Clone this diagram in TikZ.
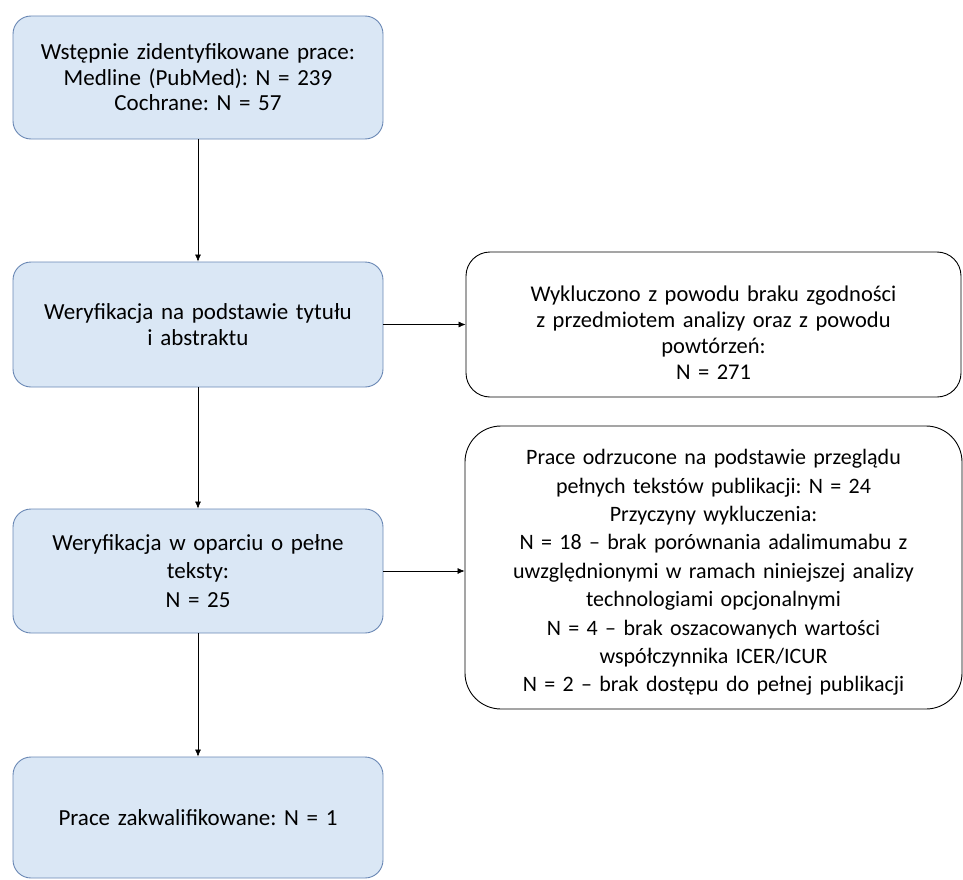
\documentclass[tikz,border=0pt]{standalone}
\usepackage{fontspec}
\setmainfont{Carlito}
\usetikzlibrary{arrows.meta}
\definecolor{lbfill}{RGB}{218,231,245}
\definecolor{lbdraw}{RGB}{105,135,180}
\frenchspacing
\begin{document}
\begin{tikzpicture}[x=1pt,y=-1pt,
  leftbox/.style={draw=lbdraw,line width=0.9pt,fill=lbfill,rounded corners=18pt,
    minimum width=370pt,text width=360pt,align=center,inner sep=0pt,
    font=\fontsize{23}{25.5}\selectfont},
  rightbox/.style={draw=black,line width=0.9pt,fill=white,rounded corners=24pt,
    minimum width=495pt,text width=480pt,align=center,inner sep=0pt,
    font=\fontsize{22.5}{26}\selectfont},
  conn/.style={draw=black,line width=0.6pt,-{Latex[length=7pt,width=6pt]}}]
\useasboundingbox (0,0) rectangle (963,880);
\node[leftbox,minimum height=123pt] (b1) at (198,77.5) {Wstępnie zidentyfikowane prace:\\Medline (PubMed): N = 239\\Cochrane: N = 57};
\node[leftbox,minimum height=125pt] (b2) at (198,324.5) {Weryfikacja na podstawie tytułu\\i abstraktu};
\node[leftbox,minimum height=124pt,font=\fontsize{23}{28.5}\selectfont] (b3) at (198,571) {Weryfikacja w oparciu o pełne\\teksty:\\N = 25};
\node[leftbox,minimum height=121pt] (b4) at (198,817.5) {Prace zakwalifikowane: N = 1};
\node[rightbox,minimum height=145pt,text height=32pt] (r1) at (713.5,324.5) {Wykluczono z powodu braku zgodności\\z przedmiotem analizy oraz z powodu\\powtórzeń:\\N = 271};
\node[rightbox,minimum height=283pt,rounded corners=36pt,minimum width=497pt,text height=25.5pt,font=\fontsize{22}{28.4}\selectfont] (r2) at (713.5,567.5) {Prace odrzucone na podstawie przeglądu\\pełnych tekstów publikacji: N = 24\\Przyczyny wykluczenia:\\N = 18 – brak porównania adalimumabu z\\uwzględnionymi w ramach niniejszej analizy\\technologiami opcjonalnymi\\N = 4 – brak oszacowanych wartości\\współczynnika ICER/ICUR\\N = 2 – brak dostępu do pełnej publikacji};
\draw[conn] (b1) -- (b2);
\draw[conn] (b2) -- (b3);
\draw[conn] (b3) -- (b4);
\draw[conn] (b2.east) -- (r1.west);
\draw[conn] (b3.east) -- (b3.east -| r2.west);
\end{tikzpicture}
\end{document}
